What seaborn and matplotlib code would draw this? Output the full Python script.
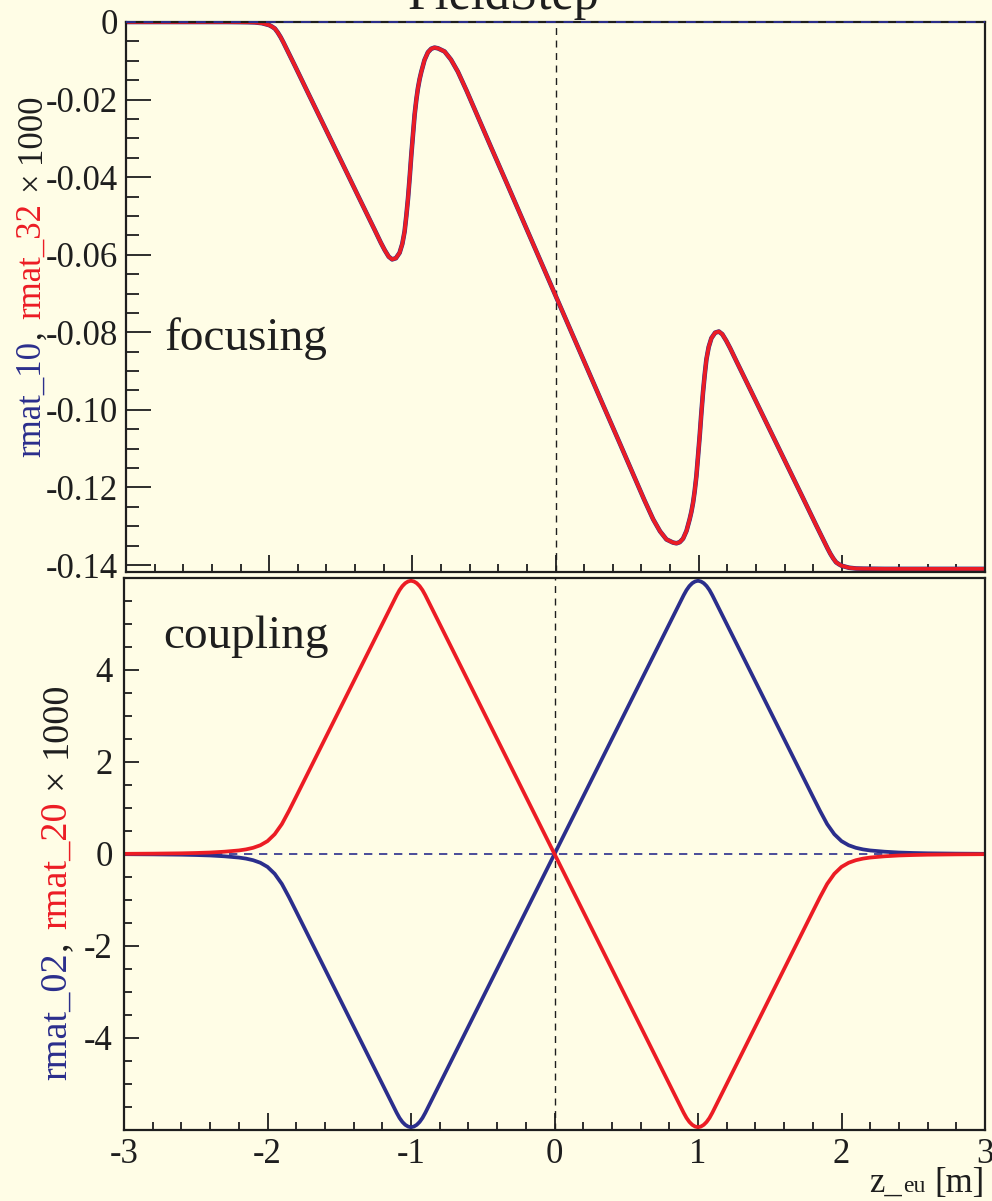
import numpy as np
import pandas as pd
import matplotlib
matplotlib.use("Agg")
import matplotlib.pyplot as plt
import seaborn as sns
from matplotlib.ticker import MultipleLocator

# ---------------- data ----------------
z_top = [-3.0, -2.6, -2.3, -2.15, -2.1, -2.05, -2.02, -2.0, -1.98, -1.96, -1.94, -1.92,
         -1.9, -1.88, -1.86, -1.82, -1.727, -1.611, -1.495, -1.378, -1.263, -1.22, -1.193,
         -1.165, -1.141, -1.115, -1.089, -1.07, -1.054, -1.042, -1.03, -1.018, -1.007,
         -0.995, -0.984, -0.972, -0.961, -0.949, -0.937, -0.915, -0.891, -0.868, -0.845,
         -0.82, -0.775, -0.73, -0.682, -0.62, -0.566, -0.45, -0.334, -0.2, -0.067, 0.0,
         0.067, 0.2, 0.334, 0.45, 0.566, 0.62, 0.682, 0.73, 0.775, 0.82, 0.845, 0.868,
         0.891, 0.915, 0.937, 0.949, 0.961, 0.972, 0.984, 0.995, 1.007, 1.018, 1.03,
         1.042, 1.054, 1.07, 1.089, 1.115, 1.141, 1.165, 1.193, 1.22, 1.263, 1.378,
         1.495, 1.611, 1.727, 1.82, 1.86, 1.88, 1.9, 1.92, 1.94, 1.96, 1.98, 2.0, 2.02,
         2.05, 2.1, 2.15, 2.3, 2.6, 3.0]
rmat_10 = [0.0, 0.0, 0.0, -0.00005, -0.0001, -0.0003, -0.0006, -0.0008, -0.0012, -0.0017,
           -0.0027, -0.0039, -0.0053, -0.0068, -0.0083, -0.0113, -0.0184, -0.0272, -0.0360,
           -0.0449, -0.0536, -0.0569, -0.0588, -0.0605, -0.0612, -0.0609, -0.0595, -0.0572,
           -0.0540, -0.0500, -0.0454, -0.0398, -0.0342, -0.0288, -0.0239, -0.0200, -0.0171,
           -0.0147, -0.0128, -0.0098, -0.0078, -0.0069, -0.0066, -0.0068, -0.0076, -0.0097,
           -0.0128, -0.0178, -0.0224, -0.0323, -0.0421, -0.0535, -0.0648, -0.0705,
           -0.0762, -0.0875, -0.0989, -0.1087, -0.1186, -0.1232, -0.1282, -0.1313, -0.1334,
           -0.1342, -0.1344, -0.1341, -0.1332, -0.1312, -0.1282, -0.1263, -0.1239, -0.1210,
           -0.1171, -0.1122, -0.1068, -0.1012, -0.0956, -0.0910, -0.0870, -0.0838, -0.0815,
           -0.0801, -0.0798, -0.0805, -0.0822, -0.0841, -0.0874, -0.0961, -0.1050, -0.1138,
           -0.1226, -0.1297, -0.1327, -0.1342, -0.1357, -0.1371, -0.1383, -0.1393, -0.1398,
           -0.1402, -0.1404, -0.1407, -0.1409, -0.14095, -0.1410, -0.1410, -0.1410]
rmat_32 = [0.0, 0.0, 0.0, -0.00005, -0.0001, -0.0003, -0.0006, -0.0008, -0.0012, -0.0017,
           -0.0027, -0.0039, -0.0053, -0.0068, -0.0083, -0.0113, -0.0184, -0.0272, -0.0360,
           -0.0449, -0.0536, -0.0569, -0.0588, -0.0605, -0.0612, -0.0609, -0.0595, -0.0572,
           -0.0540, -0.0500, -0.0454, -0.0398, -0.0342, -0.0288, -0.0239, -0.0200, -0.0171,
           -0.0147, -0.0128, -0.0098, -0.0078, -0.0069, -0.0066, -0.0068, -0.0076, -0.0097,
           -0.0128, -0.0178, -0.0224, -0.0323, -0.0421, -0.0535, -0.0648, -0.0705,
           -0.0762, -0.0875, -0.0989, -0.1087, -0.1186, -0.1232, -0.1282, -0.1313, -0.1334,
           -0.1342, -0.1344, -0.1341, -0.1332, -0.1312, -0.1282, -0.1263, -0.1239, -0.1210,
           -0.1171, -0.1122, -0.1068, -0.1012, -0.0956, -0.0910, -0.0870, -0.0838, -0.0815,
           -0.0801, -0.0798, -0.0805, -0.0822, -0.0841, -0.0874, -0.0961, -0.1050, -0.1138,
           -0.1226, -0.1297, -0.1327, -0.1342, -0.1357, -0.1371, -0.1383, -0.1393, -0.1398,
           -0.1402, -0.1404, -0.1407, -0.1409, -0.14095, -0.1410, -0.1410, -0.1410]

z_bot = [-3.0, -2.8, -2.6, -2.5, -2.4, -2.3, -2.2, -2.15, -2.1, -2.05, -2.0, -1.95, -1.9,
         -1.85, -1.8, -1.75, -1.5, -1.2, -1.15, -1.1, -1.08, -1.06, -1.04, -1.02, -1.0,
         -0.98, -0.96, -0.94, -0.92, -0.9, -0.85, -0.8, -0.5, 0.0, 0.5, 0.8, 0.85, 0.9,
         0.92, 0.94, 0.96, 0.98, 1.0, 1.02, 1.04, 1.06, 1.08, 1.1, 1.15, 1.2, 1.5, 1.75,
         1.8, 1.85, 1.9, 1.95, 2.0, 2.05, 2.1, 2.15, 2.2, 2.3, 2.4, 2.5, 2.6, 2.8, 3.0]
rmat_02 = [-0.004, -0.008, -0.015, -0.022, -0.032, -0.05, -0.077, -0.10, -0.135, -0.19,
           -0.28, -0.43, -0.65, -0.94, -1.25, -1.5625, -3.125, -5.0, -5.3125, -5.625,
           -5.7375, -5.825, -5.8875, -5.925, -5.94, -5.925, -5.8875, -5.825, -5.7375,
           -5.625, -5.3125, -5.0, -3.125, 0.0, 3.125, 5.0, 5.3125, 5.625, 5.7375, 5.825,
           5.8875, 5.925, 5.94, 5.925, 5.8875, 5.825, 5.7375, 5.625, 5.3125, 5.0, 3.125,
           1.5625, 1.25, 0.94, 0.65, 0.43, 0.28, 0.19, 0.135, 0.10, 0.077, 0.05, 0.032,
           0.022, 0.015, 0.008, 0.004]
rmat_20 = [0.004, 0.008, 0.015, 0.022, 0.032, 0.05, 0.077, 0.10, 0.135, 0.19,
           0.28, 0.43, 0.65, 0.94, 1.25, 1.5625, 3.125, 5.0, 5.3125, 5.625,
           5.7375, 5.825, 5.8875, 5.925, 5.94, 5.925, 5.8875, 5.825, 5.7375,
           5.625, 5.3125, 5.0, 3.125, 0.0, -3.125, -5.0, -5.3125, -5.625, -5.7375, -5.825,
           -5.8875, -5.925, -5.94, -5.925, -5.8875, -5.825, -5.7375, -5.625, -5.3125, -5.0,
           -3.125, -1.5625, -1.25, -0.94, -0.65, -0.43, -0.28, -0.19, -0.135, -0.10, -0.077,
           -0.05, -0.032, -0.022, -0.015, -0.008, -0.004]

x_ticks = [-3, -2, -1, 0, 1, 2, 3]
top_yticks = [0, -0.02, -0.04, -0.06, -0.08, -0.10, -0.12, -0.14]
top_yticklabels = ["0", "-0.02", "-0.04", "-0.06", "-0.08", "-0.10", "-0.12", "-0.14"]
bot_yticks = [-4, -2, 0, 2, 4]
bot_yticklabels = ["-4", "-2", "0", "2", "4"]

# ---------------- style ----------------
BG = "#fffde6"
INK = "#1e1e1e"
RED = "#ec1c24"
BLUE = "#2b2e8c"
W, H = 992, 1201

sns.set_theme(style="ticks")
plt.rcParams["font.family"] = ["Liberation Serif", "DejaVu Serif"]
plt.rcParams["text.color"] = INK
plt.rcParams["axes.edgecolor"] = INK
plt.rcParams["xtick.color"] = INK
plt.rcParams["ytick.color"] = INK

fig = plt.figure(figsize=(W / 100, H / 100), dpi=100, facecolor=BG)
renderer = fig.canvas.get_renderer()


def ax_rect(l, t, r, b):
    return [l / W, 1 - b / H, (r - l) / W, (b - t) / H]


ax1 = fig.add_axes(ax_rect(126, 22, 985, 572))
ax2 = fig.add_axes(ax_rect(124, 578, 985, 1130))

df_top = pd.DataFrame({"z": z_top, "r10": rmat_10, "r32": rmat_32})
df_bot = pd.DataFrame({"z": z_bot, "r02": rmat_02, "r20": rmat_20})

LW = 2.7
for ax in (ax1, ax2):
    ax.set_facecolor(BG)
    for s in ax.spines.values():
        s.set_linewidth(1.6)
        s.set_color(INK)
        s.set_zorder(5)
    ax.axvline(0, color=INK, lw=1.0, ls=(0, (5, 4)), zorder=1)

# top panel
ax1.axhline(0, color=BLUE, lw=1.4, ls=(0, (5, 4)), zorder=6, clip_on=False)
sns.lineplot(data=df_top, x="z", y="r10", ax=ax1, color=BLUE, lw=LW + 0.6, estimator=None, zorder=3)
sns.lineplot(data=df_top, x="z", y="r32", ax=ax1, color=RED, lw=LW, estimator=None, zorder=4)
ax1.set_xlim(-3, 3)
ax1.set_ylim(-0.1418, 0.0)

# bottom panel
ax2.axhline(0, color=BLUE, lw=1.2, ls=(0, (5, 4)), zorder=1)
sns.lineplot(data=df_bot, x="z", y="r02", ax=ax2, color=BLUE, lw=LW, estimator=None, zorder=3)
sns.lineplot(data=df_bot, x="z", y="r20", ax=ax2, color=RED, lw=LW, estimator=None, zorder=4)
ax2.set_xlim(-3, 3)
ax2.set_ylim(-6, 6)

for ax in (ax1, ax2):
    ax.set_xlabel("")
    ax.set_ylabel("")
    ax.set_xticks(x_ticks)
    ax.xaxis.set_minor_locator(MultipleLocator(0.2))
    ax.tick_params(which="both", direction="in", top=False, right=False, width=1.3,
                   labelsize=25, colors=INK)
    ax.tick_params(axis="x", which="major", length=12, pad=6)
    ax.tick_params(axis="x", which="minor", length=6)

ax1.tick_params(axis="y", which="major", length=18, pad=6)
ax1.tick_params(axis="y", which="minor", length=9)
ax2.tick_params(axis="y", which="major", length=11, pad=8)
ax2.tick_params(axis="y", which="minor", length=5.5)

ax1.set_xticklabels([])
ax1.set_yticks(top_yticks)
ax1.set_yticklabels(top_yticklabels)
ax1.yaxis.set_minor_locator(MultipleLocator(0.005))
ax2.set_xticklabels([str(v) for v in x_ticks])
ax2.set_yticks(bot_yticks)
ax2.set_yticklabels(bot_yticklabels)
ax2.yaxis.set_minor_locator(MultipleLocator(0.5))

# panel annotations
fig.text(165 / W, 1 - 350 / H, "focusing", fontsize=34, ha="left", va="baseline")
fig.text(163 / W, 1 - 648 / H, "coupling", fontsize=34, ha="left", va="baseline")

# title (cut off at the top edge, as in the reference)
fig.text(503 / W, 1 - 9 / H, "FieldStep", fontsize=36, ha="center", va="baseline")


def vlabel(parts, x_px, yc_px, fs):
    texts, lens = [], []
    for s, c, gap in parts:
        t = fig.text(0, 0, s, rotation=90, rotation_mode="anchor", ha="left",
                     va="baseline", color=c, fontsize=fs)
        bb = t.get_window_extent(renderer)
        texts.append(t)
        lens.append(bb.height + gap)
    total = sum(lens)
    y = (H - yc_px) - total / 2
    for t, L in zip(texts, lens):
        t.set_position((x_px / W, y / H))
        y += L


vlabel([("rmat_10", BLUE, 2), (",", INK, 11), ("rmat_32", RED, 12), ("×", INK, 9), ("1000", INK, 0)],
       40, 275, 25)
vlabel([("rmat_02", BLUE, 2), (",", INK, 12), ("rmat_20", RED, 13), ("×", INK, 9), ("1000", INK, 0)],
       66, 881, 27.5)


def hlabel_right(parts, x_right_px, ybase_px):
    x = x_right_px
    for s, fs, gap in reversed(parts):
        t = fig.text(x / W, 1 - ybase_px / H, s, fontsize=fs, ha="right", va="baseline")
        bb = t.get_window_extent(renderer)
        x -= bb.width + gap


hlabel_right([("z_", 25, 0), ("eu", 17, 1), ("[m]", 25, 9)], 985, 1192)

fig.savefig("out.png", dpi=100, facecolor=BG)
